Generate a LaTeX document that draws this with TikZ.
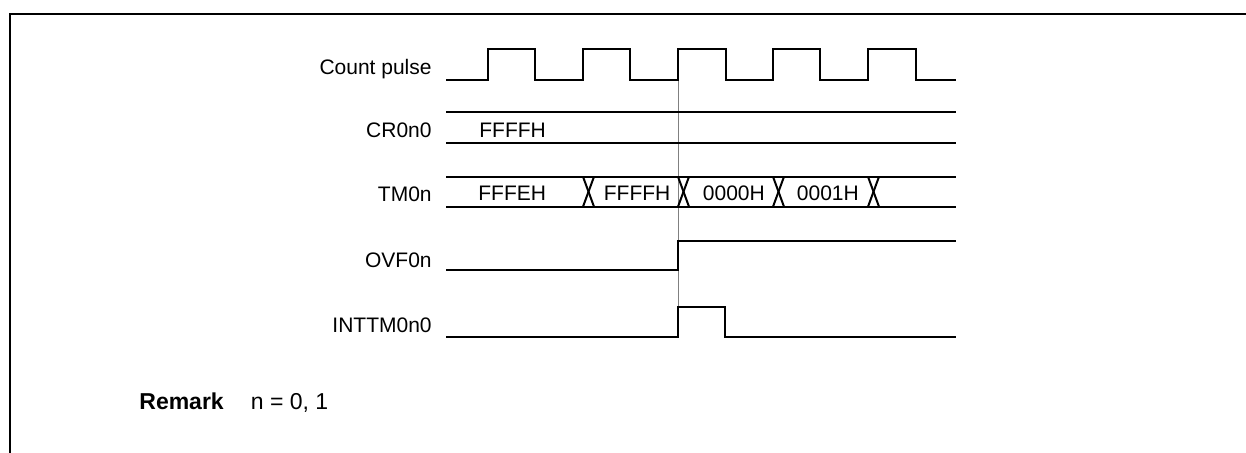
\documentclass[tikz,border=0pt]{standalone}
\usepackage{fontspec}
\setmainfont{Liberation Sans}
\begin{document}
\begin{tikzpicture}[x=0.5pt,y=-0.5pt,
  sig/.style={line width=1pt, line join=miter},
  frame/.style={line width=1pt},
  marker/.style={gray, line width=0.5pt},
  lbl/.style={anchor=base east, inner sep=0pt, font=\fontsize{10.5}{12}\selectfont},
  val/.style={anchor=base west, inner sep=0pt, font=\fontsize{10.5}{12}\selectfont},
  rem/.style={anchor=base west, inner sep=0pt, font=\fontsize{11.5}{13}\selectfont}]
\useasboundingbox (0,0) rectangle (1246,453);
% frame
\draw[frame] (10,453) -- (10,14) -- (1246,14);
% marker line
\draw[marker] (678,80) -- (678,308);
% labels
\node[lbl] (lcp) at (432,75) {Count pulse};
\node[lbl] (lcr) at (432,137.5) {CR0n0};
\node[lbl] (ltm) at (432,201.5) {TM0n};
\node[lbl] (lovf) at (432,267.5) {OVF0n};
\node[lbl] (lint) at (432,332.7) {INTTM0n0};
% count pulse
\draw[sig] (446,80.5) -- (488,80.5) -- (488,49.5) -- (535,49.5) -- (535,80.5)
  -- (583,80.5) -- (583,49.5) -- (630,49.5) -- (630,80.5)
  -- (678,80.5) -- (678,49.5) -- (725.5,49.5) -- (725.5,80.5)
  -- (773,80.5) -- (773,49.5) -- (820,49.5) -- (820,80.5)
  -- (868,80.5) -- (868,49.5) -- (916,49.5) -- (916,80.5) -- (956,80.5);
% CR0n0
\draw[sig] (446,111.7) -- (956,111.7);
\draw[sig] (446,142.7) -- (956,142.7);
\node[val] (vcr) at (479,137.5) {FFFFH};
% TM0n
\draw[sig] (446,176.7) -- (956,176.7);
\draw[sig] (446,206.7) -- (956,206.7);
\foreach \r in {583,678,773,868}{
  \draw[sig] (\r,176.7) -- (\r+11,206.7);
  \draw[sig] (\r,206.7) -- (\r+11,176.7);
}
\node[val] (v1) at (478,201) {FFFEH};
\node[val] (v2) at (603.5,201) {FFFFH};
\node[val] (v3) at (702.5,201) {0000H};
\node[val] (v4) at (796.5,201) {0001H};
% OVF0n
\draw[sig] (446,270.5) -- (678,270.5) -- (678,241) -- (956,241);
% INTTM0n0
\draw[sig] (446,337.3) -- (678,337.3) -- (678,307.5) -- (725,307.5) -- (725,337.3) -- (956,337.3);
% remark
\node[rem] (rk) at (139,410) {\bfseries Remark};
\node[rem] (rn) at (250.5,410) {n = 0, 1};
\end{tikzpicture}
\end{document}
